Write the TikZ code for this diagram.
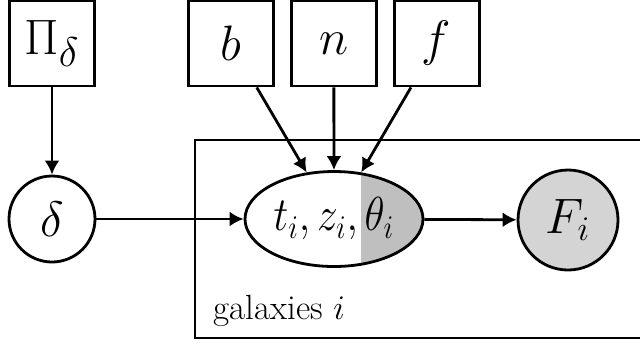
\documentclass[tikz,border=0pt]{standalone}
\usepackage{graphicx}
\usetikzlibrary{shapes.geometric, positioning, arrows.meta}

\begin{document}
\begin{tikzpicture}[
    x=0.5pt, y=-0.5pt,
    hyper/.style={
        rectangle,
        draw=black,
        line width=1.4pt,
        minimum width=42.5pt,
        minimum height=42.5pt,
        inner sep=0pt,
        fill=white,
        font=\fontsize{28}{32}\selectfont
    },
    latent/.style={
        circle,
        draw=black,
        line width=1.4pt,
        minimum size=43pt,
        inner sep=0pt,
        fill=white,
        font=\fontsize{24}{28}\selectfont
    },
    observed/.style={
        latent,
        fill=black!17,
        minimum size=50pt
    },
    partial/.style={
        ellipse,
        draw=black,
        line width=1.4pt,
        minimum width=89pt,
        minimum height=47.5pt,
        inner sep=0pt,
        fill=white,
        font=\fontsize{21}{25}\selectfont,
        path picture={
            \fill[black!25] ([xshift=13.5pt]path picture bounding box.north)
                rectangle (path picture bounding box.south east);
        }
    },
    edge/.style={
        -{Latex[length=7pt, width=7.5pt]},
        line width=1.4pt
    },
    plate/.style={
        draw=black,
        line width=1.4pt
    }
]
    \useasboundingbox (0,0) rectangle (640,345);

    % -- plate over galaxies --
    \draw[plate] (195,140) rectangle (700,338);
    \node[anchor=base west, inner sep=0pt, font=\fontsize{17.5}{20}\selectfont] (plate_label) at (213,319) {galaxies $i$};

    % -- hyperparameters --
    \node[hyper] (prior) at (52,43.5) {$\Pi_\delta$};
    \node[hyper] (b) at (231,43.5) {$b$};
    \node[hyper, right=7.5pt of b] (n) {$n$};
    \node[hyper, right=7.5pt of n] (f) {$f$};

    % -- random variables --
    \node[latent] (delta) at (52,219) {$\delta$};
    \node[partial] (params) at (334,219) {\makebox[0pt]{\scalebox{1}[1.15]{$t_i, z_i, \theta_i$}}};
    \node[observed] (flux) at (568,220) {$F_i$};

    % Edges
    \draw[edge] (prior) -- (delta);
    \draw[edge] (b) -- (params);
    \draw[edge] (n) -- (params);
    \draw[edge] (f) -- (params);
    \draw[edge] (delta) -- (params);
    \draw[edge] (params) -- (flux);

\end{tikzpicture}
\end{document}
